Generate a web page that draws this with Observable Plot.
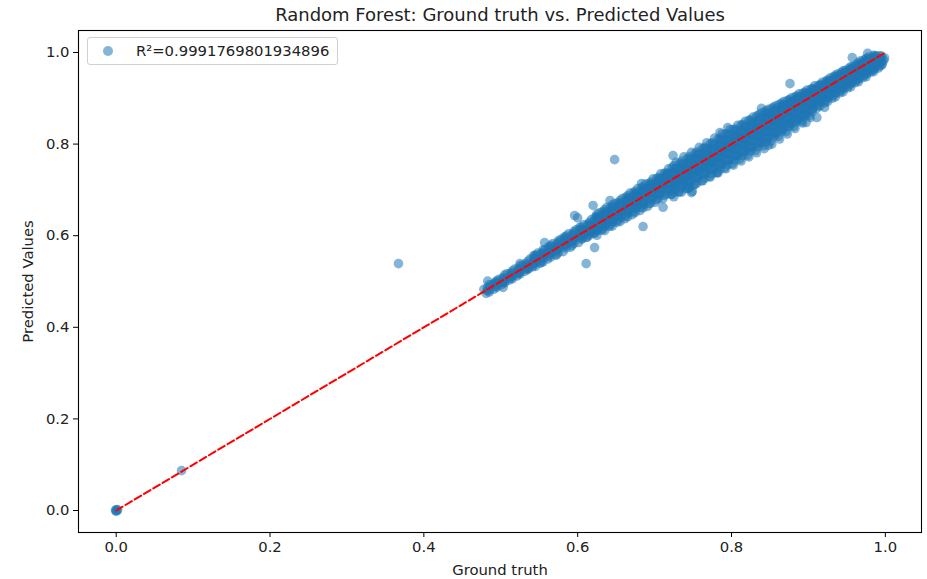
<!DOCTYPE html>
<html>
<head>
<meta charset="utf-8">
<script src="https://cdn.jsdelivr.net/npm/d3@7"></script>
<script src="https://cdn.jsdelivr.net/npm/@observablehq/plot@0.6"></script>
<style>
  html, body { margin: 0; padding: 0; background: #fff; }
  #wrap { position: relative; width: 927px; height: 579px; font-family: "DejaVu Sans", sans-serif; }
  #legend { position: absolute; left: 87px; top: 37px; width: 251px; height: 28px; box-sizing: border-box;
    border: 1px solid #d0d0d0; border-radius: 3px; background: rgba(255,255,255,0.8);
    font-size: 14.8px; color: #222; }
  #legend .mk { position: absolute; left: 15px; top: 8px; width: 10px; height: 10px; border-radius: 50%;
    background: rgba(31,119,180,0.55); }
  #legend .tx { position: absolute; left: 48px; top: 4px; white-space: nowrap; }
</style>
</head>
<body>
<div id="wrap"></div>
<script>
const title = "Random Forest: Ground truth vs. Predicted Values";
const xLabel = "Ground truth";
const yLabel = "Predicted Values";
const legendLabel = "R\u00b2=0.9991769801934896";
const tickValues = [0, 0.2, 0.4, 0.6, 0.8, 1.0];

// [ground truth, predicted]
const zeroCluster = [[0,0],[0.001,0.002],[0,-0.002],[0.002,0.001],[-0.001,0.001]];
const outliers = [[0.085,0.087],[0.367,0.539]];
const edgePoints = [
  [0.683,0.714],[0.642,0.677],[0.745,0.705],[0.748,0.694],[0.781,0.738],[0.839,0.878],
  [0.795,0.836],[0.897,0.847],[0.921,0.880],[0.957,0.989],[0.977,0.998],[0.503,0.487],[0.525,0.539]
];
const band = [
  [0.478,0.483],[0.481,0.474],[0.483,0.501],
  [0.488,0.493],[0.491,0.483],[0.493,0.498],
  [0.498,0.505],[0.501,0.493],[0.503,0.499],
  [0.508,0.517],[0.511,0.503],[0.513,0.510],
  [0.518,0.527],[0.521,0.512],[0.523,0.519],
  [0.528,0.536],[0.531,0.522],[0.533,0.530],
  [0.538,0.549],[0.541,0.532],[0.543,0.540],[0.536,0.528],
  [0.548,0.562],[0.551,0.540],[0.553,0.551],[0.546,0.556],
  [0.557,0.585],[0.558,0.570],[0.561,0.549],[0.563,0.561],[0.556,0.557],
  [0.568,0.583],[0.571,0.558],[0.573,0.571],[0.566,0.566],
  [0.578,0.592],[0.581,0.565],[0.583,0.579],[0.576,0.574],
  [0.588,0.604],[0.591,0.575],[0.593,0.589],[0.586,0.584],
  [0.596,0.644],[0.600,0.639],[0.598,0.613],[0.601,0.585],[0.603,0.600],[0.606,0.594],
  [0.611,0.539],[0.608,0.624],[0.611,0.596],[0.613,0.611],[0.616,0.605],
  [0.620,0.666],[0.622,0.574],[0.618,0.635],[0.621,0.605],[0.623,0.620],[0.626,0.613],
  [0.628,0.650],[0.631,0.612],[0.633,0.632],[0.636,0.622],[0.626,0.640],
  [0.638,0.662],[0.641,0.620],[0.643,0.643],[0.646,0.630],[0.636,0.651],
  [0.648,0.766],[0.648,0.670],[0.651,0.629],[0.653,0.652],[0.656,0.640],[0.646,0.661],
  [0.658,0.681],[0.661,0.637],[0.663,0.661],[0.666,0.650],[0.656,0.670],
  [0.668,0.693],[0.671,0.646],[0.673,0.672],[0.676,0.660],[0.666,0.682],
  [0.678,0.703],[0.681,0.655],[0.683,0.683],[0.686,0.668],[0.676,0.692],
  [0.685,0.620],[0.688,0.713],[0.691,0.664],[0.693,0.693],[0.696,0.678],[0.686,0.702],
  [0.698,0.724],[0.701,0.673],[0.703,0.703],[0.706,0.688],[0.696,0.712],
  [0.711,0.662],[0.708,0.735],[0.711,0.681],[0.713,0.714],[0.716,0.697],[0.706,0.722],
  [0.724,0.775],[0.718,0.746],[0.721,0.690],[0.723,0.724],[0.726,0.706],[0.716,0.733],
  [0.728,0.760],[0.731,0.695],[0.733,0.734],[0.736,0.714],[0.726,0.746],[0.734,0.725],
  [0.738,0.772],[0.741,0.703],[0.743,0.745],[0.746,0.722],[0.736,0.757],[0.744,0.734],
  [0.749,0.697],[0.748,0.782],[0.751,0.711],[0.753,0.755],[0.756,0.731],[0.746,0.768],[0.754,0.743],
  [0.758,0.793],[0.761,0.720],[0.763,0.765],[0.766,0.740],[0.756,0.779],[0.764,0.752],
  [0.768,0.803],[0.771,0.729],[0.773,0.776],[0.776,0.749],[0.766,0.790],[0.774,0.762],
  [0.778,0.813],[0.781,0.738],[0.783,0.786],[0.786,0.758],[0.776,0.800],[0.784,0.772],
  [0.785,0.825],[0.788,0.822],[0.791,0.748],[0.793,0.796],[0.796,0.767],[0.786,0.810],[0.794,0.782],
  [0.798,0.832],[0.801,0.757],[0.803,0.806],[0.806,0.776],[0.796,0.820],[0.804,0.791],
  [0.808,0.841],[0.811,0.767],[0.813,0.816],[0.816,0.786],[0.806,0.830],[0.814,0.801],
  [0.818,0.850],[0.821,0.776],[0.823,0.826],[0.826,0.795],[0.816,0.840],[0.824,0.811],
  [0.828,0.859],[0.831,0.786],[0.833,0.836],[0.836,0.805],[0.826,0.849],[0.834,0.820],
  [0.838,0.868],[0.841,0.796],[0.843,0.846],[0.846,0.815],[0.836,0.858],[0.844,0.830],
  [0.848,0.797],[0.848,0.876],[0.851,0.806],[0.853,0.856],[0.856,0.825],[0.846,0.867],[0.854,0.840],
  [0.858,0.884],[0.861,0.817],[0.863,0.866],[0.866,0.836],[0.856,0.876],[0.864,0.850],
  [0.868,0.893],[0.871,0.827],[0.873,0.876],[0.876,0.846],[0.866,0.885],[0.874,0.860],
  [0.876,0.932],[0.878,0.901],[0.881,0.838],[0.883,0.886],[0.886,0.857],[0.876,0.893],[0.884,0.870],
  [0.888,0.910],[0.891,0.849],[0.893,0.895],[0.896,0.867],[0.886,0.902],[0.894,0.880],
  [0.898,0.918],[0.901,0.862],[0.903,0.905],[0.906,0.878],[0.896,0.911],[0.904,0.890],
  [0.911,0.858],[0.908,0.927],[0.911,0.878],[0.913,0.914],[0.916,0.893],[0.906,0.920],[0.914,0.902],
  [0.918,0.935],[0.921,0.890],[0.923,0.923],[0.926,0.903],[0.916,0.928],[0.924,0.912],
  [0.928,0.944],[0.931,0.900],[0.933,0.932],[0.936,0.913],[0.926,0.937],[0.934,0.921],
  [0.938,0.953],[0.941,0.912],[0.943,0.941],[0.946,0.923],[0.936,0.946],[0.944,0.931],
  [0.948,0.961],[0.951,0.923],[0.953,0.950],[0.956,0.933],[0.946,0.954],[0.954,0.940],
  [0.958,0.970],[0.961,0.934],[0.963,0.959],[0.966,0.944],[0.956,0.963],[0.964,0.950],
  [0.968,0.982],[0.971,0.945],[0.973,0.968],[0.976,0.955],[0.966,0.973],
  [0.978,0.990],[0.981,0.957],[0.983,0.976],[0.986,0.966],[0.976,0.983],
  [0.988,0.993],[0.991,0.966],[0.993,0.985],[0.996,0.975],[0.998,0.983],[0.999,0.988],[0.986,0.992]
];
// extra columns filling the dense band: [ground truth, [predicted values...]]
const bandFill = [
  [0.485,[0.493,0.481,0.487,0.477]],
  [0.495,[0.502,0.491,0.497,0.487]],
  [0.505,[0.514,0.500,0.507,0.497]],
  [0.515,[0.523,0.511,0.518,0.506]],
  [0.525,[0.534,0.520,0.527,0.516]],
  [0.535,[0.544,0.531,0.537,0.526]],
  [0.545,[0.558,0.533,0.550,0.541,0.546]],
  [0.555,[0.569,0.543,0.560,0.551,0.564]],
  [0.565,[0.579,0.553,0.570,0.561,0.575]],
  [0.575,[0.589,0.563,0.580,0.571,0.585]],
  [0.585,[0.599,0.573,0.590,0.581,0.595]],
  [0.595,[0.609,0.583,0.600,0.591,0.605]],
  [0.605,[0.619,0.592,0.610,0.601,0.614]],
  [0.615,[0.629,0.601,0.620,0.611,0.626]],
  [0.625,[0.647,0.635,0.623,0.611,0.601,0.641]],
  [0.635,[0.657,0.645,0.633,0.621,0.611,0.651]],
  [0.645,[0.667,0.655,0.643,0.631,0.621,0.661]],
  [0.655,[0.677,0.665,0.653,0.641,0.631,0.671]],
  [0.665,[0.687,0.675,0.663,0.651,0.641,0.681]],
  [0.675,[0.697,0.685,0.673,0.661,0.651,0.691]],
  [0.685,[0.707,0.695,0.683,0.671,0.661,0.701]],
  [0.695,[0.717,0.705,0.693,0.681,0.671,0.711]],
  [0.705,[0.727,0.715,0.703,0.691,0.681,0.721]],
  [0.715,[0.737,0.725,0.713,0.701,0.691,0.731]],
  [0.725,[0.753,0.740,0.733,0.721,0.709,0.695,0.685,0.715]],
  [0.735,[0.763,0.750,0.743,0.731,0.719,0.705,0.695,0.725]],
  [0.745,[0.773,0.760,0.753,0.741,0.729,0.715,0.705,0.735]],
  [0.755,[0.783,0.770,0.763,0.751,0.739,0.725,0.715,0.745]],
  [0.765,[0.793,0.780,0.773,0.761,0.749,0.735,0.725,0.755]],
  [0.775,[0.803,0.790,0.783,0.771,0.759,0.745,0.735,0.765]],
  [0.785,[0.813,0.800,0.793,0.781,0.769,0.755,0.745,0.775]],
  [0.795,[0.823,0.810,0.803,0.791,0.779,0.765,0.755,0.785]],
  [0.805,[0.833,0.820,0.813,0.801,0.789,0.775,0.765,0.795]],
  [0.815,[0.843,0.830,0.823,0.811,0.799,0.785,0.775,0.805]],
  [0.825,[0.853,0.840,0.833,0.821,0.809,0.795,0.785,0.815]],
  [0.835,[0.863,0.850,0.843,0.831,0.819,0.805,0.795,0.825]],
  [0.845,[0.873,0.860,0.853,0.841,0.829,0.815,0.805,0.835]],
  [0.855,[0.881,0.870,0.863,0.851,0.839,0.825,0.816,0.845]],
  [0.865,[0.889,0.879,0.873,0.861,0.849,0.835,0.827,0.855]],
  [0.875,[0.897,0.888,0.882,0.871,0.859,0.846,0.838,0.865]],
  [0.885,[0.905,0.897,0.891,0.881,0.869,0.856,0.849,0.875]],
  [0.895,[0.913,0.906,0.900,0.891,0.879,0.866,0.860,0.885]],
  [0.905,[0.921,0.913,0.909,0.901,0.889,0.877,0.871,0.895]],
  [0.915,[0.930,0.921,0.911,0.901,0.891,0.883]],
  [0.925,[0.940,0.931,0.921,0.911,0.901,0.893]],
  [0.935,[0.950,0.941,0.931,0.921,0.911,0.903]],
  [0.945,[0.960,0.951,0.941,0.931,0.921,0.914]],
  [0.955,[0.969,0.961,0.951,0.941,0.932,0.925]],
  [0.965,[0.978,0.970,0.961,0.951,0.942,0.936]],
  [0.975,[0.987,0.980,0.971,0.961,0.953,0.947]],
  [0.985,[0.994,0.988,0.980,0.971,0.963,0.958]],
  [0.995,[0.992,0.986,0.979,0.972]]
];
// more columns in the densest part of the band
const bandCore = [
  [0.4825,[0.486,0.480]],
  [0.4925,[0.497,0.489,0.493]],
  [0.5025,[0.508,0.498,0.503]],
  [0.5125,[0.518,0.507,0.513]],
  [0.5225,[0.528,0.517,0.522]],
  [0.5325,[0.539,0.527,0.533]],
  [0.5425,[0.550,0.536,0.543,0.556]],
  [0.5525,[0.561,0.546,0.553,0.541]],
  [0.5625,[0.571,0.556,0.563,0.576]],
  [0.5725,[0.581,0.566,0.573,0.558]],
  [0.5825,[0.592,0.576,0.583,0.597]],
  [0.5925,[0.602,0.586,0.593,0.579]],
  [0.6025,[0.613,0.596,0.603,0.618]],
  [0.6125,[0.623,0.606,0.613,0.597]],
  [0.6225,[0.634,0.615,0.624,0.606,0.640]],
  [0.6325,[0.644,0.625,0.634,0.615,0.652]],
  [0.6425,[0.655,0.635,0.644,0.624,0.662]],
  [0.6525,[0.665,0.645,0.654,0.634,0.672]],
  [0.6625,[0.675,0.655,0.664,0.643,0.684]],
  [0.6725,[0.686,0.664,0.674,0.652,0.694]],
  [0.6825,[0.696,0.674,0.684,0.662,0.704]],
  [0.6925,[0.706,0.684,0.694,0.670,0.714]],
  [0.7025,[0.716,0.693,0.704,0.679,0.725]],
  [0.7125,[0.726,0.703,0.714,0.688,0.736]],
  [0.7225,[0.737,0.712,0.724,0.700,0.748,0.690]],
  [0.7325,[0.747,0.722,0.734,0.709,0.758,0.696]],
  [0.7425,[0.757,0.731,0.744,0.718,0.768,0.703]],
  [0.7525,[0.768,0.741,0.754,0.727,0.779,0.712]],
  [0.7625,[0.778,0.750,0.764,0.736,0.790,0.720]],
  [0.7725,[0.788,0.760,0.774,0.745,0.800,0.728]],
  [0.7825,[0.798,0.769,0.784,0.754,0.811,0.737]],
  [0.7925,[0.808,0.779,0.794,0.764,0.822,0.746]],
  [0.8025,[0.818,0.788,0.804,0.773,0.832,0.754]],
  [0.8125,[0.828,0.798,0.814,0.782,0.842,0.763]],
  [0.8225,[0.838,0.807,0.824,0.792,0.852,0.772]],
  [0.8325,[0.848,0.817,0.834,0.801,0.861,0.781]],
  [0.8425,[0.858,0.826,0.844,0.810,0.870,0.790]],
  [0.8525,[0.867,0.836,0.854,0.820,0.878,0.800]],
  [0.8625,[0.876,0.846,0.864,0.830,0.887,0.811]],
  [0.8725,[0.886,0.856,0.874,0.840,0.895,0.822]],
  [0.8825,[0.895,0.866,0.884,0.851,0.903,0.834]],
  [0.8925,[0.904,0.876,0.894,0.862,0.911,0.846]],
  [0.9025,[0.913,0.886,0.904,0.872,0.919,0.858]],
  [0.9125,[0.922,0.896,0.913,0.884,0.927]],
  [0.9225,[0.932,0.906,0.923,0.895,0.937]],
  [0.9325,[0.942,0.916,0.933,0.906,0.947]],
  [0.9425,[0.952,0.926,0.943,0.917,0.956]],
  [0.9525,[0.961,0.936,0.952,0.928,0.965]],
  [0.9625,[0.971,0.946,0.962,0.939,0.974]],
  [0.9725,[0.980,0.957,0.972,0.950,0.984]],
  [0.9825,[0.989,0.968,0.981,0.961]],
  [0.9925,[0.993,0.977,0.987,0.970]]
];
const bandMid = [
  [0.6075,[0.612,0.600,0.606]],
  [0.6175,[0.622,0.609,0.616]],
  [0.6275,[0.633,0.619,0.626]],
  [0.6375,[0.643,0.628,0.636]],
  [0.6475,[0.653,0.638,0.646]],
  [0.6575,[0.664,0.647,0.656]],
  [0.6675,[0.674,0.657,0.666]],
  [0.6775,[0.684,0.667,0.676]],
  [0.6875,[0.694,0.676,0.686]],
  [0.6975,[0.705,0.686,0.696]],
  [0.7075,[0.715,0.695,0.706,0.725]],
  [0.7175,[0.725,0.704,0.716,0.736]],
  [0.7275,[0.735,0.713,0.725,0.746,0.702]],
  [0.7375,[0.745,0.722,0.735,0.756,0.711]],
  [0.7475,[0.755,0.731,0.745,0.766,0.720]],
  [0.7575,[0.765,0.741,0.754,0.776,0.729]],
  [0.7675,[0.775,0.750,0.764,0.786,0.738]],
  [0.7775,[0.785,0.760,0.774,0.796,0.747]],
  [0.7875,[0.795,0.769,0.784,0.806,0.756]],
  [0.7975,[0.805,0.779,0.794,0.816,0.765]],
  [0.8075,[0.815,0.788,0.804,0.826,0.774]],
  [0.8175,[0.825,0.798,0.814,0.836,0.783]],
  [0.8275,[0.835,0.807,0.823,0.846,0.792]],
  [0.8375,[0.845,0.817,0.833,0.856,0.802]],
  [0.8475,[0.855,0.827,0.843,0.865,0.812]],
  [0.8575,[0.864,0.837,0.853,0.874,0.822]],
  [0.8675,[0.874,0.847,0.863,0.883,0.832]],
  [0.8775,[0.884,0.857,0.873,0.892,0.843]],
  [0.8875,[0.893,0.868,0.883,0.900,0.854]],
  [0.8975,[0.903,0.878,0.893,0.909,0.865]],
  [0.9075,[0.912,0.889,0.902,0.918]],
  [0.9175,[0.922,0.899,0.912,0.928]],
  [0.9275,[0.932,0.909,0.922,0.938]],
  [0.9375,[0.942,0.920,0.932,0.947]],
  [0.9475,[0.951,0.930,0.942,0.957]],
  [0.9575,[0.961,0.941,0.952,0.966]],
  [0.9675,[0.970,0.951,0.962,0.975]],
  [0.9775,[0.980,0.962,0.972,0.985]],
  [0.9875,[0.988,0.972,0.981]]
];

const colPairs = cols => cols.flatMap(([gt, preds]) => preds.map(p => [gt, p]));
const points = [...zeroCluster, ...outliers, ...edgePoints, ...band,
  ...colPairs(bandFill), ...colPairs(bandCore), ...colPairs(bandMid)]
  .map(([gt, pred]) => ({gt, pred}));
const gtMin = Math.max(0, d3.min(points, d => d.gt));
const gtMax = d3.max(points, d => d.gt);
const refLine = [{v: gtMin}, {v: gtMax}];

const FONT = "DejaVu Sans, sans-serif";
const FS = 14.8;
const chart = Plot.plot({
  width: 927,
  height: 579,
  marginLeft: 78,
  marginRight: 6,
  marginTop: 30,
  marginBottom: 47,
  style: {fontFamily: FONT, fontSize: FS + "px", color: "#222", background: "white"},
  x: {domain: [-0.049, 1.047]},
  y: {domain: [-0.048, 1.048]},
  marks: [
    Plot.dot(points, {x: "gt", y: "pred", r: 4.8, fill: "#1f77b4", fillOpacity: 0.55, stroke: "none"}),
    Plot.line(refLine, {x: "v", y: "v", stroke: "#ff0000", strokeWidth: 2, strokeDasharray: "7.5,3.3"}),
    Plot.frame({stroke: "#000", strokeWidth: 1.1}),
    Plot.axisX({ticks: tickValues, tickFormat: d => d.toFixed(1), tickSize: 5, tickPadding: 4,
      label: null, fontSize: FS, stroke: "#000"}),
    Plot.axisY({ticks: tickValues, tickFormat: d => d.toFixed(1), tickSize: 5, tickPadding: 4,
      label: null, fontSize: FS, stroke: "#000"}),
    Plot.text([xLabel], {frameAnchor: "bottom", dy: 38, lineAnchor: "middle", fontSize: FS, fill: "#222"}),
    Plot.text([yLabel], {frameAnchor: "left", dx: -50, rotate: -90, textAnchor: "middle", fontSize: FS, fill: "#222"}),
    Plot.text([title], {frameAnchor: "top", dy: -15, lineAnchor: "middle", fontSize: 18, fill: "#222"})
  ]
});
const wrap = document.getElementById("wrap");
wrap.appendChild(chart);
const lg = document.createElement("div");
lg.id = "legend";
lg.innerHTML = '<div class="mk"></div><div class="tx"></div>';
lg.querySelector(".tx").textContent = legendLabel;
wrap.appendChild(lg);
</script>
</body>
</html>
